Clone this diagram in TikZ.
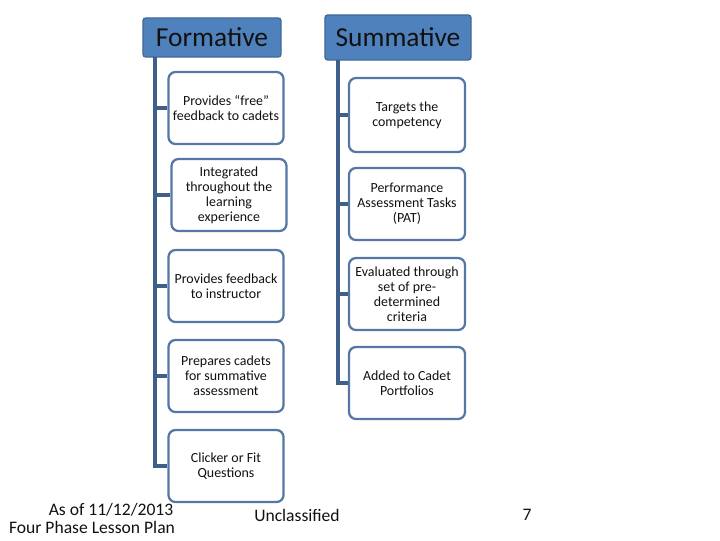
\documentclass[tikz,border=0pt]{standalone}
\usepackage{fontspec}
\setmainfont{Carlito}
\usepackage{tikz}
\usetikzlibrary{positioning}
\definecolor{fsHead}{HTML}{4F81BD}
\definecolor{fsHeadEdge}{HTML}{41699C}
\definecolor{fsEdge}{HTML}{5477A6}
\definecolor{fsLine}{HTML}{3F5F8A}
\definecolor{fsInk}{HTML}{111111}
\tikzset{
  head/.style     ={draw=fsHeadEdge,fill=fsHead,line width=1pt,rounded corners=2pt,
                    font=\fontsize{19.5}{21}\selectfont,text=fsInk,inner sep=0pt},
  itembox/.style  ={draw=fsEdge,fill=white,line width=1.6pt,rounded corners=5pt,
                    minimum width=2.875cm,minimum height=1.8cm,inner sep=1pt,
                    align=center,font=\fontsize{9.9}{10.7}\selectfont,text=fsInk},
  trunk/.style    ={fsLine,line width=2.2pt},
  foot/.style     ={font=\fontsize{12.5}{13}\selectfont,text=fsInk,inner sep=0pt},
}

\begin{document}
\begin{tikzpicture}[x=0.025cm,y=-0.025cm]
\useasboundingbox (0,0) rectangle (720,540);
%% headers
\node[head,minimum width=3.45cm,minimum height=0.975cm] (form) at (212,37.5) {Formative};
\node[head,minimum width=3.65cm,minimum height=1.125cm] (summ) at (398,37.5) {Summative};
%% formative column
\node[itembox] (f1) at (226,108) {Provides “free”\\feedback to cadets};
\node[itembox] (f2) at (229,195) {Integrated\\throughout the\\learning\\experience};
\node[itembox] (f3) at (226,286) {Provides feedback\\to instructor};
\node[itembox] (f4) at (226,376) {Prepares cadets\\for summative\\assessment};
\node[itembox] (f5) at (226,466) {Clicker or Fit\\Questions};
%% summative column
\node[itembox,minimum width=2.9cm,minimum height=1.85cm] (s1) at (407,115) {Targets the\\competency};
\node[itembox,minimum width=2.9cm,minimum height=1.8cm] (s2) at (407,204) {Performance\\Assessment Tasks\\(PAT)};
\node[itembox,minimum width=2.9cm,minimum height=1.8cm] (s3) at (407,294) {Evaluated through\\set of pre-\\determined\\criteria};
\node[itembox,minimum width=2.9cm,minimum height=1.8cm] (s4) at (407,383) {Added to Cadet\\Portfolios};
%% connectors
\coordinate (ftop) at (155,57);
\coordinate (stop) at (338,60);
\draw[trunk] (ftop) |- (f5.west);
\foreach \b in {f1,f2,f3,f4}
  \draw[trunk] (\b.west -| ftop) -- (\b.west);
\draw[trunk] (stop) |- (s4.west);
\foreach \b in {s1,s2,s3}
  \draw[trunk] (\b.west -| stop) -- (\b.west);
%% footer
\node[foot] (date) at (111,509.5) {As of 11/12/2013};
\node[foot] (plan) at (92,527.5) {Four Phase Lesson Plan};
\node[foot] (cls) at (297,515) {Unclassified};
\node[foot] (pg) at (527,515) {7};
\end{tikzpicture}
\end{document}
